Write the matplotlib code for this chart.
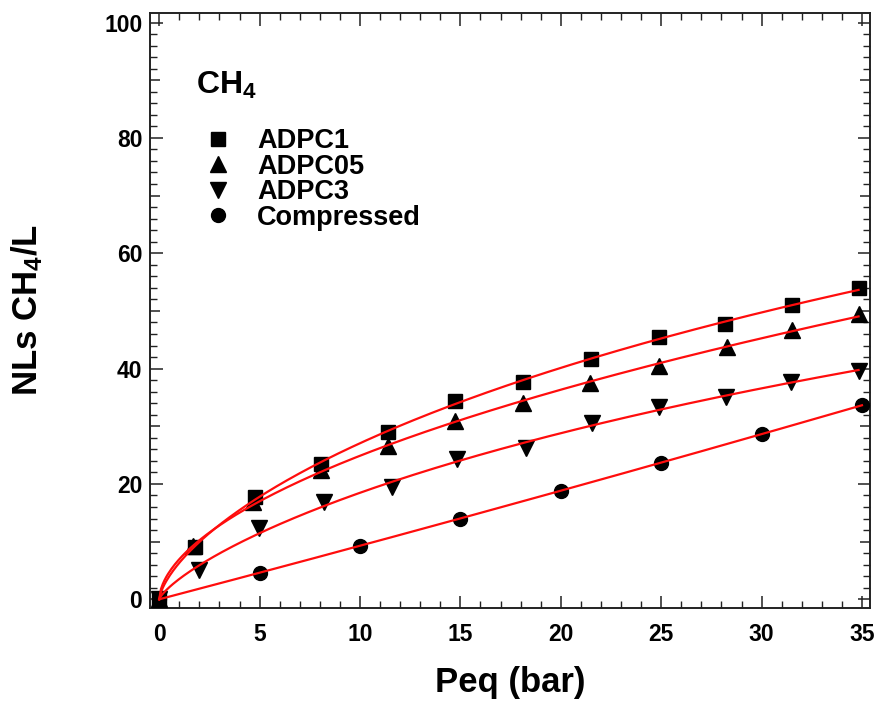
import numpy as np
import matplotlib
matplotlib.use("Agg")
import matplotlib.pyplot as plt
from matplotlib.ticker import MultipleLocator, FuncFormatter
from matplotlib.lines import Line2D

plt.rcParams['font.family'] = ['Liberation Sans', 'DejaVu Sans']
plt.rcParams['font.weight'] = 'bold'
plt.rcParams['mathtext.fontset'] = 'custom'
plt.rcParams['mathtext.rm'] = 'Liberation Sans:bold'
plt.rcParams['mathtext.it'] = 'Liberation Sans:bold'
plt.rcParams['mathtext.bf'] = 'Liberation Sans:bold'
plt.rcParams['mathtext.default'] = 'rm'

# Equilibrium pressure (bar) and adsorbed amount (NL CH4 / L)
p_adpc1 = [0.0, 1.78, 4.77, 8.06, 11.38, 14.73, 18.1, 21.5, 24.9, 28.2, 31.5, 34.83]
q_adpc1 = [0.0, 9.0, 17.7, 23.5, 29.0, 34.3, 37.7, 41.7, 45.4, 47.7, 51.0, 53.9]

p_adpc05 = [0.0, 1.7, 4.68, 8.06, 11.4, 14.73, 18.1, 21.46, 24.9, 28.27, 31.54, 34.83]
q_adpc05 = [0.0, 9.2, 16.8, 22.5, 26.6, 30.9, 34.0, 37.5, 40.5, 43.7, 46.7, 49.5]

p_adpc3 = [0.0, 1.99, 4.98, 8.22, 11.58, 14.82, 18.27, 21.57, 24.9, 28.24, 31.47, 34.83]
q_adpc3 = [0.0, 5.1, 12.3, 16.8, 19.4, 24.3, 26.2, 30.6, 33.4, 35.1, 37.7, 39.6]

p_comp = [0.0, 5.0, 10.0, 15.0, 20.0, 25.0, 30.0, 35.0]
q_comp = [0.0, 4.6, 9.3, 14.0, 18.8, 23.7, 28.7, 33.6]

labels = ["ADPC1", "ADPC05", "ADPC3", "Compressed"]
markers = ["s", "^", "v", "o"]
marker_sizes = [10, 11, 11, 10]


def fit_sips(p, q):
    """Langmuir-Freundlich isotherm fitted by grid search over (b, n);
    the capacity is solved by linear least squares for each pair."""
    p = np.asarray(p, float)
    q = np.asarray(q, float)
    best = None
    for n in np.linspace(0.5, 1.3, 81):
        for b in np.logspace(-4, 0.5, 300):
            f = (b * p) ** n / (1.0 + (b * p) ** n)
            denom = f @ f
            if denom == 0:
                continue
            qm = (f @ q) / denom
            sse = np.sum((q - qm * f) ** 2)
            if best is None or sse < best[0]:
                best = (sse, qm, b, n)
    _, qm, b, n = best
    xs = np.linspace(0.0, p.max(), 400)
    return xs, qm * (b * xs) ** n / (1.0 + (b * xs) ** n)


def fit_poly(p, q):
    """Quadratic through the origin."""
    p = np.asarray(p, float)
    q = np.asarray(q, float)
    A = np.column_stack([p, p ** 2])
    coef, *_ = np.linalg.lstsq(A, q, rcond=None)
    xs = np.linspace(0.0, p.max(), 400)
    return xs, coef[0] * xs + coef[1] * xs ** 2


fig = plt.figure(figsize=(8.77, 7.06), dpi=100)
ax = fig.add_axes([150 / 877, 1 - 607.7 / 706, 720 / 877, 594.4 / 706])

series = [(p_adpc1, q_adpc1), (p_adpc05, q_adpc05), (p_adpc3, q_adpc3), (p_comp, q_comp)]
fitters = [fit_sips, fit_sips, fit_sips, fit_poly]

for (p, q), m, ms, fitter in zip(series, markers, marker_sizes, fitters):
    ax.plot(p, q, linestyle='none', marker=m, markersize=ms, color='black', zorder=3)
    xs, ys = fitter(p, q)
    ax.plot(xs, ys, color='#ff0d0d', lw=1.6, zorder=4)

ax.set_xlim(-0.46, 35.4)
ax.set_ylim(-1.46, 101.6)

ax.xaxis.set_major_locator(MultipleLocator(5))
ax.xaxis.set_minor_locator(MultipleLocator(1))
ax.yaxis.set_major_locator(MultipleLocator(10))
ax.yaxis.set_minor_locator(MultipleLocator(2))
ax.yaxis.set_major_formatter(FuncFormatter(lambda v, pos: f"{v:.0f}" if round(v) % 20 == 0 else ""))

ax.tick_params(which='both', direction='in', top=True, right=True, color='#222222')
ax.tick_params(axis='x', which='major', length=9, width=1.1, pad=11, labelsize=16.5)
ax.tick_params(axis='y', which='major', length=9, width=1.1, pad=5.5, labelsize=16.5)
ax.tick_params(which='minor', length=5, width=1.0)

for lab in ax.get_xticklabels() + ax.get_yticklabels():
    lab.set_fontweight('bold')

for s in ax.spines.values():
    s.set_linewidth(1.4)
    s.set_color('#222222')

fig.text(510 / 877, 1 - 691.7 / 706, "Peq (bar)", fontsize=25, fontweight='bold',
         ha='center', va='baseline')
fig.text(27 / 877, 1 - 310 / 706, r"NLs CH$_4$/L", rotation=90, fontsize=25,
         fontweight='bold', ha='center', va='center')

ax.text((196 - 150) / 720, (607.7 - 94) / 594.4, r"CH$_4$", transform=ax.transAxes,
        fontsize=23, fontweight='bold', ha='left', va='baseline')

handles = [Line2D([], [], linestyle='none', marker=m, markersize=ms, color='black')
           for m, ms in zip(markers, marker_sizes)]
fs_leg = 19.5
fs_px = fs_leg * 100 / 72
leg = ax.legend(handles, labels, loc='upper left',
                bbox_to_anchor=((217.7 - fs_px / 2) / 877, 1 - 128 / 706),
                bbox_transform=fig.transFigure,
                frameon=False, fontsize=fs_leg, handlelength=1.0,
                handletextpad=(257 - 217.7 - fs_px / 2) / fs_px,
                labelspacing=-0.015, borderpad=0, borderaxespad=0, numpoints=1)
for t in leg.get_texts():
    t.set_fontweight('bold')

# Tick lengths on the y axis: long at labelled values, medium in between
fig.canvas.draw()
for t in ax.yaxis.get_major_ticks():
    v = t.get_loc()
    if round(v) % 20 != 0:
        t.tick1line.set_markersize(7)
        t.tick2line.set_markersize(7)

fig.savefig("out.png", dpi=100)
